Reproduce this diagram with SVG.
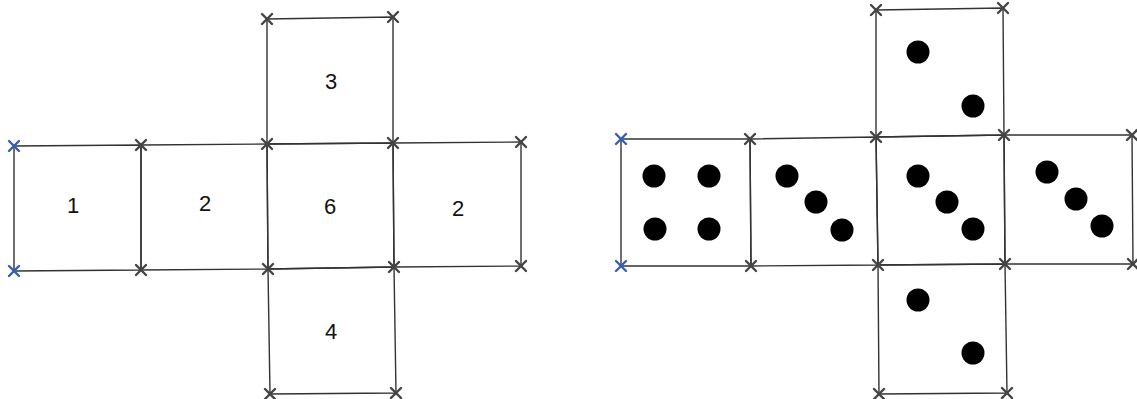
<svg xmlns="http://www.w3.org/2000/svg" width="1137" height="399" viewBox="0 0 1137 399">
<style>
.face{fill:none;stroke:#333;stroke-width:1.4}
.lbl{font-family:"Liberation Sans",Arial,sans-serif;font-size:22px;fill:#111;text-anchor:middle}
.pip{fill:#000}
.x{stroke:#444;stroke-width:2.4;stroke-linecap:round}
.xb{stroke:#3560b0;stroke-width:2.4;stroke-linecap:round}
</style>
<defs>
<g id="cx"><line class="x" x1="-5" y1="-5" x2="5" y2="5"/><line class="x" x1="-5" y1="5" x2="5" y2="-5"/></g>
<g id="cb"><line class="xb" x1="-5" y1="-5" x2="5" y2="5"/><line class="xb" x1="-5" y1="5" x2="5" y2="-5"/></g>
</defs>

<!-- Left net -->
<g id="left-face1"><polygon class="face" points="14,146 141,145 141,270 14,271"/><text class="lbl" x="73" y="213">1</text></g>
<g id="left-face2"><polygon class="face" points="141,145 267,144 268,269 141,270"/><text class="lbl" x="205" y="211">2</text></g>
<g id="left-face3"><polygon class="face" points="267,19 393,17 393,143 267,144"/><text class="lbl" x="331" y="89">3</text></g>
<g id="left-face6"><polygon class="face" points="267,144 393,143 394,267 268,269"/><text class="lbl" x="330" y="214">6</text></g>
<g id="left-face2b"><polygon class="face" points="393,143 521,142 521,266 394,267"/><text class="lbl" x="458" y="216">2</text></g>
<g id="left-face4"><polygon class="face" points="268,269 394,267 396,393 270,394"/><text class="lbl" x="331" y="339">4</text></g>

<!-- Right net -->
<g id="right-face4"><polygon class="face" points="621,139 750,139 751,266 621,266"/>
<circle class="pip" cx="654" cy="176" r="11.5"/><circle class="pip" cx="709" cy="176" r="11.5"/><circle class="pip" cx="655" cy="229" r="11.5"/><circle class="pip" cx="709" cy="229" r="11.5"/></g>
<g id="right-face3a"><polygon class="face" points="750,139 876,137 878,265 751,266"/>
<circle class="pip" cx="787" cy="176" r="11.5"/><circle class="pip" cx="816" cy="202" r="11.5"/><circle class="pip" cx="842" cy="230" r="11.5"/></g>
<g id="right-face2top"><polygon class="face" points="876,10 1003,8 1004,135 876,137"/>
<circle class="pip" cx="918" cy="52" r="11.5"/><circle class="pip" cx="973" cy="106" r="11.5"/></g>
<g id="right-face3center"><polygon class="face" points="876,137 1004,135 1005,264 878,265"/>
<circle class="pip" cx="918" cy="176" r="11.5"/><circle class="pip" cx="947" cy="202" r="11.5"/><circle class="pip" cx="973" cy="229" r="11.5"/></g>
<g id="right-face3b"><polygon class="face" points="1004,135 1132,135 1133,264 1005,264"/>
<circle class="pip" cx="1047" cy="172" r="11.5"/><circle class="pip" cx="1076" cy="199" r="11.5"/><circle class="pip" cx="1102" cy="226" r="11.5"/></g>
<g id="right-face2bottom"><polygon class="face" points="878,265 1005,264 1007,393 879,394"/>
<circle class="pip" cx="918" cy="300" r="11.5"/><circle class="pip" cx="973" cy="353" r="11.5"/></g>

<!-- Vertex markers -->
<g id="markers">
<use href="#cb" x="14" y="146"/><use href="#cb" x="14" y="271"/>
<use href="#cx" x="141" y="145"/><use href="#cx" x="141" y="270"/>
<use href="#cx" x="267" y="19"/><use href="#cx" x="393" y="17"/>
<use href="#cx" x="267" y="144"/><use href="#cx" x="393" y="143"/>
<use href="#cx" x="268" y="269"/><use href="#cx" x="394" y="267"/>
<use href="#cx" x="521" y="142"/><use href="#cx" x="521" y="266"/>
<use href="#cx" x="270" y="394"/><use href="#cx" x="396" y="393"/>
<use href="#cb" x="621" y="139"/><use href="#cb" x="621" y="266"/>
<use href="#cx" x="750" y="139"/><use href="#cx" x="751" y="266"/>
<use href="#cx" x="876" y="10"/><use href="#cx" x="1003" y="8"/>
<use href="#cx" x="876" y="137"/><use href="#cx" x="1004" y="135"/>
<use href="#cx" x="878" y="265"/><use href="#cx" x="1005" y="264"/>
<use href="#cx" x="1132" y="135"/><use href="#cx" x="1133" y="264"/>
<use href="#cx" x="879" y="394"/><use href="#cx" x="1007" y="393"/>
</g>
</svg>
